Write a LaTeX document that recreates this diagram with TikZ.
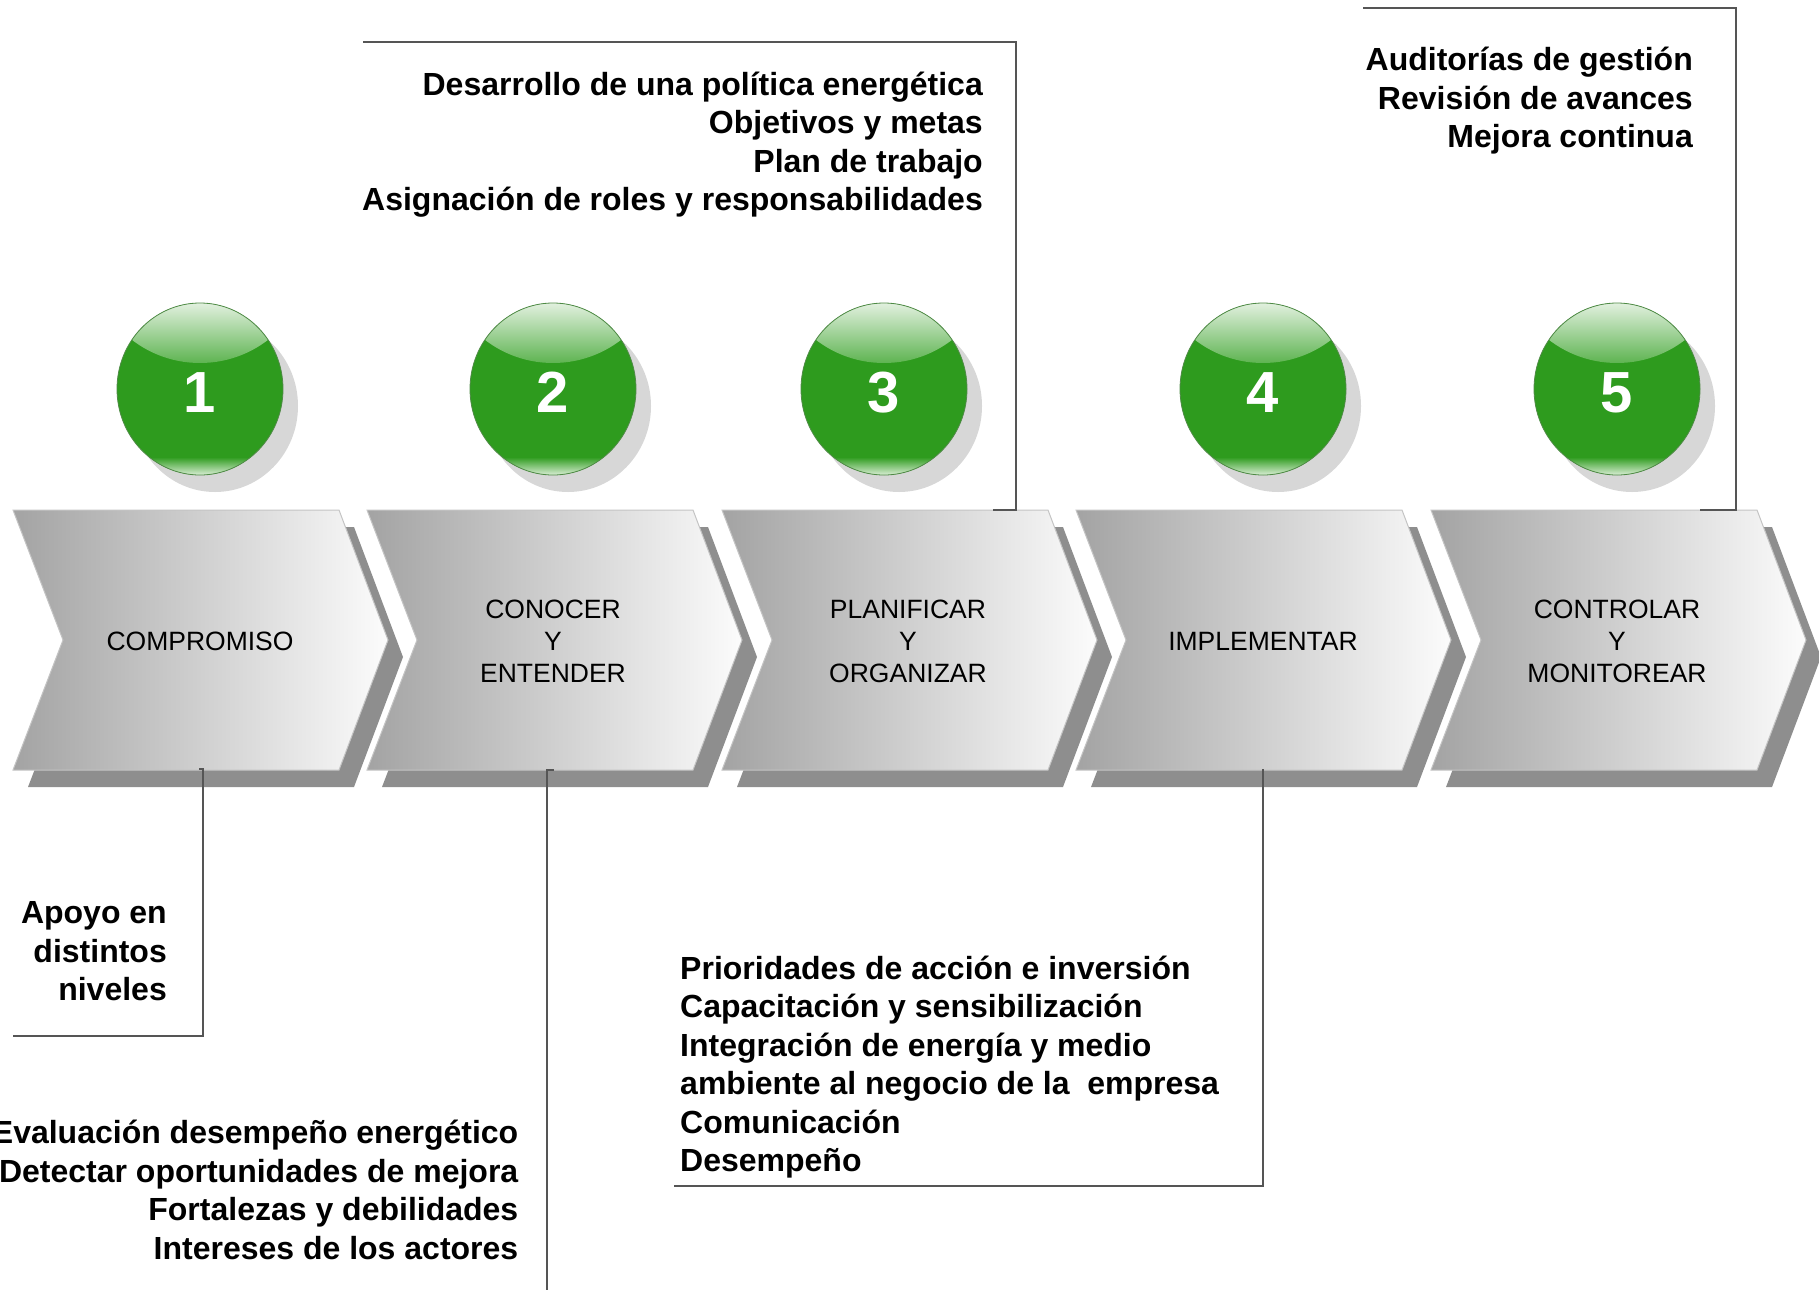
\documentclass[tikz,border=0pt]{standalone}
\usepackage{fontspec}
\setmainfont{Liberation Sans}
\usetikzlibrary{calc}
\definecolor{grnmain}{HTML}{2E9B1E}
\definecolor{grnedge}{HTML}{4F8A46}
\definecolor{grnhiT}{HTML}{E6F2E3}
\definecolor{grnhiB}{HTML}{5CB34F}
\definecolor{grnglow}{HTML}{E2F2DE}
\definecolor{shadowgray}{HTML}{8E8E8E}
\definecolor{ballshadow}{HTML}{D7D7D7}
\definecolor{linegray}{HTML}{555555}
\definecolor{chevL}{HTML}{A3A3A3}
\definecolor{chevR}{HTML}{FCFCFC}
\definecolor{chevE}{HTML}{C4C4C4}
\tikzset{
  chevshadow/.style={fill=shadowgray, draw=none},
  chevbody/.style={left color=chevL, right color=chevR, draw=chevE, line width=1pt},
  steplabel/.style={align=center, inner sep=0pt, text=black, font=\fontsize{26.5}{32}\selectfont},
  notetext/.style={inner sep=0pt, text=black, font=\fontsize{32}{38.3}\selectfont\bfseries},
  numtext/.style={inner sep=0pt, text=white, font=\fontsize{58}{60}\selectfont\bfseries},
  connector/.style={draw=linegray, line width=1.6pt}
}
\newcommand\greenball[4]{%
  \fill[ballshadow] (#1+15,#2+17) ellipse [x radius=83, y radius=86];
  \fill[grnmain] (#1,#2) ellipse [x radius=83, y radius=86];
  \begin{scope}
    \clip (#1,#2) ellipse [x radius=83, y radius=86];
    \begin{scope}
      \clip (#1,#2-134) ellipse [x radius=110, y radius=108];
      \shade[top color=grnhiT, bottom color=grnhiB] (#1-90,#2-88) rectangle (#1+90,#2-25);
    \end{scope}
    \shade[top color=grnmain, bottom color=grnglow] (#1-90,#2+68) rectangle (#1+90,#2+87);
  \end{scope}
  \draw[grnedge, line width=0.8pt] (#1,#2) ellipse [x radius=83, y radius=86];
  \node[numtext, anchor=base] (#4) at (#1,#2+23.5) {#3};
}
\begin{document}
\begin{tikzpicture}[x=1pt,y=-1pt]
\useasboundingbox (0,0) rectangle (1819,1290);
\clip (0,0) rectangle (1819,1290);

% balls
\greenball{200}{389}{1}{n1}
\greenball{553}{389}{2}{n2}
\greenball{884}{389}{3}{n3}
\greenball{1263}{389}{4}{n4}
\greenball{1617}{389}{5}{n5}

% chevron shadows
\foreach \xo in {13,367,722,1076,1431}{
  \fill[chevshadow] ($(\xo,510)+(15,17)$) -- ++(326,0) -- ++(49,130) -- ++(-49,130) -- ++(-326,0) -- ++(50,-130) -- cycle;
}
% chevrons
\foreach \xo in {13,367,722,1076,1431}{
  \path[chevbody] (\xo,510) -- ++(326,0) -- ++(49,130) -- ++(-49,130) -- ++(-326,0) -- ++(50,-130) -- cycle;
}

% step labels
\node[steplabel] (c1) at (200,641) {COMPROMISO};
\node[steplabel] (c2) at (553,641.5) {CONOCER\\Y\\ENTENDER};
\node[steplabel] (c3) at (908,641.5) {PLANIFICAR\\Y\\ORGANIZAR};
\node[steplabel] (c4) at (1263,641) {IMPLEMENTAR};
\node[steplabel] (c5) at (1617,641.5) {CONTROLAR\\Y\\MONITOREAR};

% connector anchor coordinates
\coordinate (a3s) at (363,42);
\coordinate (a3c) at (1016,42);
\coordinate (a3b) at (1016,510);
\coordinate (a3e) at (993,510);
\coordinate (a5s) at (1363,8);
\coordinate (a5c) at (1736,8);
\coordinate (a5b) at (1736,510);
\coordinate (a5e) at (1700,510);
\coordinate (a1t) at (199,769);
\coordinate (a1s) at (203,769);
\coordinate (a1c) at (203,1036);
\coordinate (a1e) at (13,1036);
\coordinate (a2t) at (554,770);
\coordinate (a2s) at (547,770);
\coordinate (a2e) at (547,1290);
\coordinate (a4s) at (1263,769);
\coordinate (a4c) at (1263,1186);
\coordinate (a4e) at (674,1186);

\draw[connector] (a3s) -- (a3c) -- (a3b) -- (a3e);
\draw[connector] (a5s) -- (a5c) -- (a5b) -- (a5e);
\draw[connector] (a1t) -- (a1s) -- (a1c) -- (a1e);
\draw[connector] (a2t) -- (a2s) -- (a2e);
\draw[connector] (a4s) -- (a4c) -- (a4e);

% notes: step 3 (top)
\node[notetext, anchor=base east] (p1) at (983,95) {Desarrollo de una política energética};
\node[notetext, anchor=base east] (p2) at (983,133.5) {Objetivos y metas};
\node[notetext, anchor=base east] (p3) at (983,172) {Plan de trabajo};
\node[notetext, anchor=base east] (p4) at (983,210.5) {Asignación de roles y responsabilidades};

% notes: step 5 (top)
\node[notetext, anchor=base east] (m1) at (1693,70.5) {Auditorías de gestión};
\node[notetext, anchor=base east] (m2) at (1693,109) {Revisión de avances};
\node[notetext, anchor=base east] (m3) at (1693,147.5) {Mejora continua};

% notes: step 1
\node[notetext, anchor=base east] (k1) at (167,923.5) {Apoyo en};
\node[notetext, anchor=base east] (k2) at (167,962) {distintos};
\node[notetext, anchor=base east] (k3) at (167,1000.5) {niveles};

% notes: step 2
\node[notetext, anchor=base east] (e1) at (518.5,1143.5) {Evaluación desempeño energético};
\node[notetext, anchor=base east] (e2) at (518.5,1182) {Detectar oportunidades de mejora};
\node[notetext, anchor=base east] (e3) at (518.5,1220.5) {Fortalezas y debilidades};
\node[notetext, anchor=base east] (e4) at (518.5,1259) {Intereses de los actores};

% notes: step 4
\node[notetext, anchor=base west] (i1) at (680,979) {Prioridades de acción e inversión};
\node[notetext, anchor=base west] (i2) at (680,1017.5) {Capacitación y sensibilización};
\node[notetext, anchor=base west] (i3) at (680,1056) {Integración de energía y medio};
\node[notetext, anchor=base west] (i4) at (680,1094.5) {ambiente al negocio de la\ \ empresa};
\node[notetext, anchor=base west] (i5) at (680,1133) {Comunicación};
\node[notetext, anchor=base west] (i6) at (680,1171.5) {Desempeño};
\end{tikzpicture}
\end{document}
